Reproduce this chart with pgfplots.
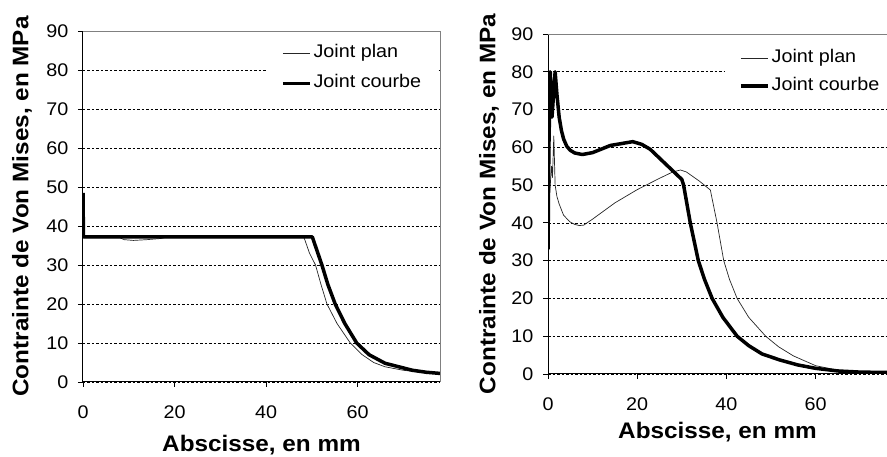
\documentclass[border=0pt]{standalone}
\usepackage{fontspec}
\setmainfont[FakeStretch=1.08]{Liberation Sans}
\usepackage{pgfplots}
\pgfplotsset{compat=1.18}

\pgfplotsset{vm/.style={
    scale only axis,
    axis x line*=bottom, axis y line*=left,
    axis line style={-, black, line width=1pt},
    ymin=0, ymax=90, ytick={0,10,...,90},
    xmin=0, xtick={0,20,40,60},
    tick align=outside, major tick length=5pt,
    tick style={black, line width=0.8pt},
    ymajorgrids,
    major grid style={black, dash pattern=on 2.5pt off 2pt, line width=0.6pt},
    /pgf/number format/assume math mode=true,
    ticklabel style={font=\fontsize{18.3}{18.3}\selectfont},
    xticklabel style={yshift=-15pt},
    yticklabel style={xshift=-6pt},
    xlabel={Abscisse, en mm},
    ylabel={Contrainte de Von Mises, en MPa},
    label style={font=\fontsize{22.5}{22.5}\selectfont\bfseries},
    legend style={draw=none, fill=white, font=\fontsize{18.3}{18.3}\selectfont,
        legend cell align=left, inner xsep=14pt, inner ysep=3pt,
        nodes={inner sep=2pt, text height=13pt, text depth=4pt}, row sep=9pt},
    legend image code/.code={\draw[#1] (0pt,0pt) -- (27pt,0pt);},
    after end axis/.code={\draw[gray, line width=0.8pt]
        (rel axis cs:0,1) -- (rel axis cs:1,1) -- (rel axis cs:1,0);},
  },
  plan/.style={black!85, line width=0.7pt, line join=round},
  courbe/.style={black, line width=3.5pt, line join=round},
}

\begin{document}
\begin{tikzpicture}
\useasboundingbox (0,0) rectangle (887pt,457pt);

% ---- gauche ----
\begin{axis}[vm,
    at={(83pt,75pt)}, anchor=origin,
    width=357pt, height=351pt,
    xmax=78,
    xlabel style={at={(axis description cs:0.5,0)}, anchor=center, yshift=-63pt},
    ylabel style={at={(axis description cs:0,0.5)}, anchor=center, yshift=61pt},
    legend style={at={(0.515,0.975)}, anchor=north west},
]
\addplot[plan] coordinates {
(0,37) (8,37) (9,36.5) (11,36.3) (14,36.5) (17,36.8) (18,37) (48.3,37)
(49.5,33) (50.8,30) (52,25) (53.3,20) (55.5,15) (58.4,10) (61,7)
(63.5,5) (66,3.9) (70,3) (74,2.5) (78,2.2)
};
\addlegendentry{Joint plan}
\addplot[courbe] coordinates {
(0,48.5) (0.1,37.2) (50.1,37.2) (52.2,30) (53.5,25) (55.1,20) (57.2,15)
(59.8,10) (62.5,7) (66,4.8) (69,3.9) (72,3) (75,2.5) (78,2.2)
};
\addlegendentry{Joint courbe}
\end{axis}

% ---- droite ----
\begin{axis}[vm,
    at={(548pt,83pt)}, anchor=origin,
    width=339pt, height=340pt,
    xmax=76,
    xlabel style={at={(axis description cs:0.5,0)}, anchor=center, yshift=-58pt},
    ylabel style={at={(axis description cs:0,0.5)}, anchor=center, yshift=59pt},
    legend style={at={(0.522,0.97)}, anchor=north west, row sep=7pt},
]
\addplot[plan] coordinates {
(0,45) (0.5,50) (0.8,55) (1.0,52) (1.3,63) (1.6,50) (2,47) (2.5,45)
(3.5,42) (5,40.2) (6,39.6) (7,39.3) (8,39.4) (10,41) (15,45.3) (20,48.8)
(25,51.8) (28,53.5) (29.7,54) (31,53.5) (34,51) (36.4,48.7) (37.9,40)
(39.4,30) (40.7,25) (42.4,20) (45,15) (48.8,10) (51.7,7.2) (55,4.8)
(60,2.2) (65,1) (70,0.5) (76,0.4)
};
\addlegendentry{Joint plan}
\addplot[courbe] coordinates {
(0,33) (0.2,60) (0.5,80) (0.9,68) (1.3,75) (1.6,80) (2,74) (2.5,68)
(3,64.5) (3.5,62.2) (4.2,60.3) (5,59.2) (6,58.5) (7.7,58.1) (10,58.6)
(14,60.5) (19,61.5) (21,60.8) (22.9,59.5) (26,56) (30,51.5) (30.4,50)
(31.9,40) (33.7,30) (35.1,25) (36.8,20) (39.2,15) (42.4,10) (45,7.5)
(48,5.3) (52,3.7) (56,2.4) (60,1.5) (65,0.8) (70,0.5) (76,0.4)
};
\addlegendentry{Joint courbe}
\end{axis}
\end{tikzpicture}
\end{document}
